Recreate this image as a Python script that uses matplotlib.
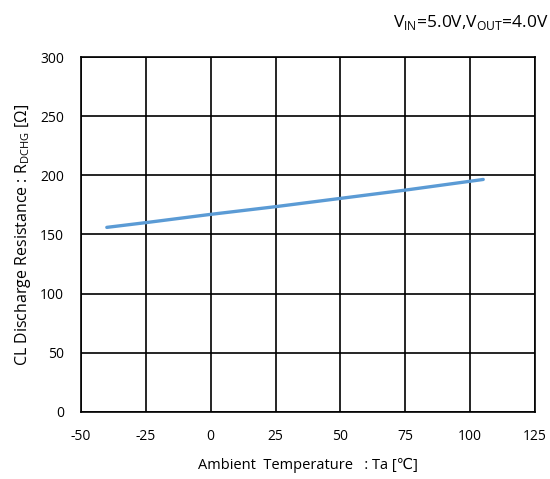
import matplotlib.pyplot as plt

temp = [-40, -25, 0, 25, 50, 75, 105]
resistance = [156, 160, 167, 173.5, 180.5, 187.5, 196.5]
xticks = [-50, -25, 0, 25, 50, 75, 100, 125]
yticks = [0, 50, 100, 150, 200, 250, 300]

plt.rcParams['font.family'] = ['Open Sans', 'DejaVu Sans']
plt.rcParams['axes.unicode_minus'] = False

fig = plt.figure(figsize=(5.5, 4.79), dpi=100)
ax = fig.add_axes([0.147, 0.140, 0.826, 0.741])

ax.plot(temp, resistance, color='#5B9BD5', lw=2.4, solid_capstyle='round')

ax.set_xlim(-50, 125)
ax.set_ylim(0, 300)
ax.set_xticks(xticks)
ax.set_yticks(yticks)
ax.grid(True, color='black', lw=1.2)
ax.set_axisbelow(True)
for s in ax.spines.values():
    s.set_color('black')
    s.set_linewidth(1.2)
ax.tick_params(length=0, labelsize=10)
ax.tick_params(axis='x', pad=12)
ax.tick_params(axis='y', pad=12)

ax.set_xlabel('Ambient  Temperature   : Ta [℃]', fontsize=10.5, labelpad=10)
ax.set_ylabel('CL Discharge Resistance : R$_{\\mathregular{DCHG}}$ [Ω]', fontsize=11.5, labelpad=5)

fig.text(0.997, 0.944, 'V$_{\\mathregular{IN}}$=5.0V,V$_{\\mathregular{OUT}}$=4.0V',
         ha='right', va='baseline', fontsize=12.5)

fig.savefig('out.png', dpi=100)
